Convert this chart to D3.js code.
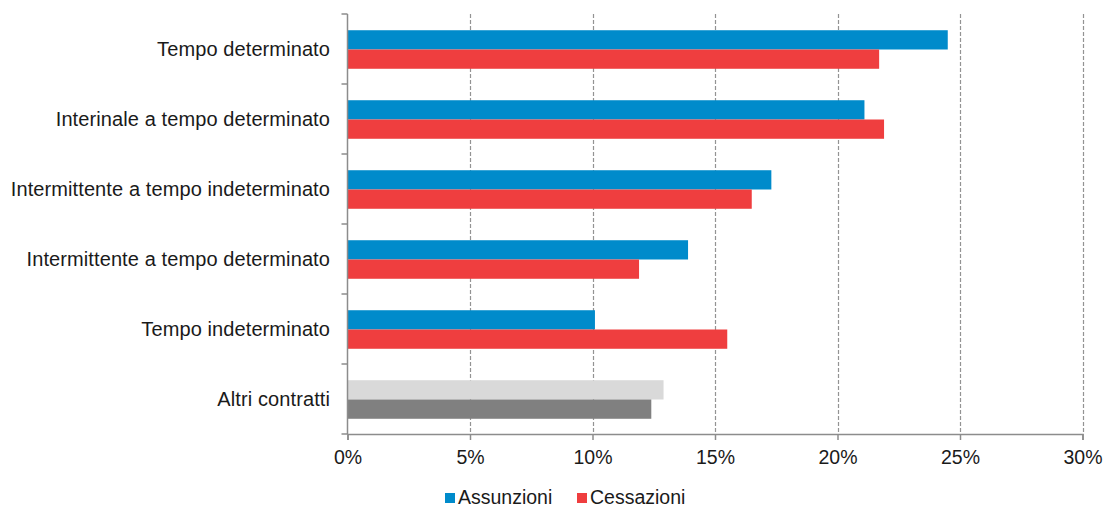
<!DOCTYPE html>
<html>
<head>
<meta charset="utf-8">
<script src="https://cdn.jsdelivr.net/npm/d3@7"></script>
<style>
  html, body { margin: 0; padding: 0; background: #fff; }
  svg { display: block; font-family: "Liberation Sans", Arial, Helvetica, sans-serif; }
</style>
</head>
<body>
<svg id="chart" width="1106" height="507"></svg>
<script>
// Contract types (top to bottom)
const categories = [
  "Tempo determinato",
  "Interinale a tempo determinato",
  "Intermittente a tempo indeterminato",
  "Intermittente a tempo determinato",
  "Tempo indeterminato",
  "Altri contratti"
];
// Share of hirings and terminations, percent
const assunzioni = [24.5, 21.1, 17.3, 13.9, 10.1, 12.9];
const cessazioni = [21.7, 21.9, 16.5, 11.9, 15.5, 12.4];
const seriesNames = ["Assunzioni", "Cessazioni"];
const xTicks = [0, 5, 10, 15, 20, 25, 30];

const seriesColors = ["#008bcb", "#ef3e3f"];
// "Altri contratti" is drawn in greys
const otherColors = ["#d9d9d9", "#808080"];

const svg = d3.select("#chart");
const margin = { left: 347.5, right: 1082.5, top: 14, bottom: 434 };

const x = d3.scaleLinear().domain([0, 30]).range([margin.left, margin.right]);
const y = d3.scaleBand().domain(categories).range([margin.top, margin.bottom]).paddingInner(0).paddingOuter(0);
const inner = d3.scaleBand().domain(seriesNames).range([1, y.bandwidth()]).paddingInner(0).paddingOuter(0.79);

// Dashed vertical gridlines
svg.append("g")
  .selectAll("line")
  .data(xTicks.filter(d => d > 0))
  .join("line")
  .attr("x1", d => Math.round(x(d)) + 0.5)
  .attr("x2", d => Math.round(x(d)) + 0.5)
  .attr("y1", margin.top)
  .attr("y2", margin.bottom)
  .attr("stroke", "#939393")
  .attr("stroke-width", 1.2)
  .attr("stroke-dasharray", "4,2");

// Bars
const rows = categories.map((c, i) => ({ cat: c, i, vals: [assunzioni[i], cessazioni[i]] }));
const groups = svg.append("g").selectAll("g")
  .data(rows)
  .join("g")
  .attr("transform", d => `translate(0,${y(d.cat)})`);

groups.selectAll("rect")
  .data(d => d.vals.map((v, k) => ({ v, k, other: d.cat === "Altri contratti" })))
  .join("rect")
  .attr("x", x(0))
  .attr("y", d => inner(seriesNames[d.k]))
  .attr("width", d => x(d.v) - x(0))
  .attr("height", inner.bandwidth())
  .attr("fill", d => d.other ? otherColors[d.k] : seriesColors[d.k]);

// Y axis (category axis) with outward ticks at band boundaries
const yAxisG = svg.append("g");
yAxisG.append("line")
  .attr("x1", margin.left).attr("x2", margin.left)
  .attr("y1", margin.top).attr("y2", margin.bottom)
  .attr("stroke", "#8c8c8c").attr("stroke-width", 1.5);
const bounds = categories.map(c => y(c)).concat([margin.bottom]);
yAxisG.selectAll("line.tick")
  .data(bounds)
  .join("line")
  .attr("class", "tick")
  .attr("x1", margin.left - 6).attr("x2", margin.left)
  .attr("y1", d => d).attr("y2", d => d)
  .attr("stroke", "#8c8c8c").attr("stroke-width", 1.5);
yAxisG.selectAll("text")
  .data(categories)
  .join("text")
  .attr("x", 330)
  .attr("y", d => y(d) + y.bandwidth() / 2)
  .attr("dy", "0.35em")
  .attr("text-anchor", "end")
  .attr("font-size", "20px")
  .attr("letter-spacing", "0.1px")
  .attr("fill", "#1a1a1a")
  .text(d => d);

// X axis
const xAxis = d3.axisBottom(x)
  .tickValues(xTicks)
  .tickSize(6)
  .tickFormat(d => d + "%");
const xAxisG = svg.append("g")
  .attr("transform", `translate(0,${margin.bottom})`)
  .call(xAxis);
xAxisG.select(".domain").attr("stroke", "#8c8c8c").attr("stroke-width", 1.5);
xAxisG.selectAll(".tick line").attr("stroke", "#8c8c8c").attr("stroke-width", 1.5);
xAxisG.selectAll(".tick text")
  .attr("font-size", "19.5px")
  .attr("font-family", "\"Liberation Sans\", Arial, sans-serif")
  .attr("fill", "#1a1a1a")
  .attr("y", 16);

// Legend
const legend = svg.append("g").attr("transform", "translate(445,493)");
const legendX = [0, 132];
seriesNames.forEach((name, k) => {
  const g = legend.append("g").attr("transform", `translate(${legendX[k]},0)`);
  g.append("rect").attr("width", 10).attr("height", 10).attr("fill", seriesColors[k]);
  g.append("text")
    .attr("x", 13)
    .attr("y", 11)
    .attr("font-size", "19.5px")
    .attr("fill", "#1a1a1a")
    .text(name);
});
</script>
</body>
</html>
